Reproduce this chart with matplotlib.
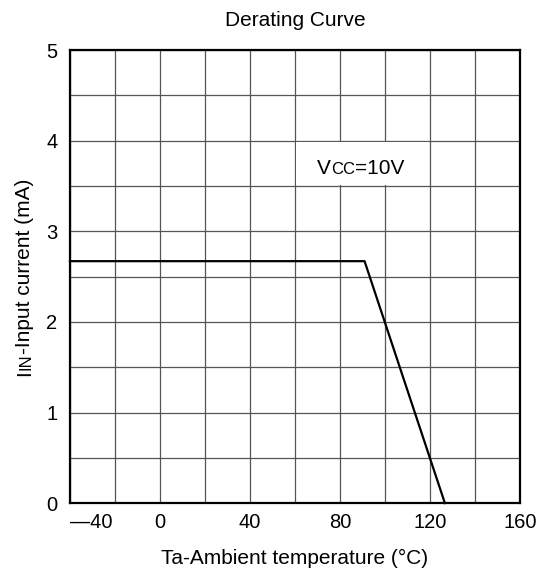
import matplotlib.pyplot as plt
from matplotlib.patches import Rectangle
from matplotlib.transforms import IdentityTransform

plt.rcParams['font.family'] = ['Liberation Sans', 'DejaVu Sans']

# Data
temp = [-40, 91, 126.7]
current = [2.67, 2.67, 0]

x_ticks = [-40, 0, 40, 80, 120, 160]
x_labels = ['\u201440', '0', '40', '80', '120', '160']
y_ticks = [0, 1, 2, 3, 4, 5]

fig, ax = plt.subplots(figsize=(5.42, 5.75), dpi=100)
fig.subplots_adjust(left=0.129, right=0.959, bottom=0.125, top=0.913)

ax.set_xlim(-40, 160)
ax.set_ylim(0, 5)
ax.set_xticks(x_ticks)
ax.set_xticklabels(x_labels)
ax.set_xticks(range(-40, 161, 20), minor=True)
ax.set_yticks(y_ticks)
ax.set_yticks([i * 0.5 for i in range(11)], minor=True)
ax.tick_params(which='both', length=0, labelsize=14.5)
ax.tick_params(axis='x', pad=7)
ax.tick_params(axis='y', pad=9)
ax.grid(which='both', color='#555555', lw=0.9)
ax.set_axisbelow(True)
for s in ax.spines.values():
    s.set_linewidth(1.6)
    s.set_zorder(5)

# first x label sits right of the axis corner
ax.get_xticklabels()[0].set_horizontalalignment('left')

ax.plot(temp, current, color='black', lw=1.6, zorder=4, clip_on=False)

# white cell behind the Vcc note
ax.add_patch(Rectangle((60.4, 3.51), 59.2, 0.48, facecolor='white',
                       edgecolor='none', zorder=2))

ax.set_title('Derating Curve', fontsize=15, pad=17)
ax.set_xlabel('Ta-Ambient temperature (\u00b0C)', fontsize=15, labelpad=12)

fig.canvas.draw()
renderer = fig.canvas.get_renderer()


def rich(pieces, x, y, rotation=0):
    # pieces of text with different sizes, laid along one baseline, centered at x (or y)
    texts = []
    for s, size in pieces:
        t = fig.text(0, 0, s, fontsize=size, transform=IdentityTransform(),
                     ha='left', va='baseline', rotation_mode='anchor', zorder=6)
        texts.append(t)
    widths = [t.get_window_extent(renderer).width for t in texts]
    pos = -sum(widths) / 2
    for t, w in zip(texts, widths):
        if rotation == 90:
            t.set_position((x, y + pos))
            t.set_rotation(90)
        else:
            t.set_position((x + pos, y))
        pos += w


rich([('V', 15), ('CC', 12), ('=10V', 15)], 361, 575 - 174)
rich([('I', 15), ('IN', 12), ('-Input current (mA)', 15)], 30, 575 - 277, rotation=90)

fig.savefig('out.png', dpi=100)
